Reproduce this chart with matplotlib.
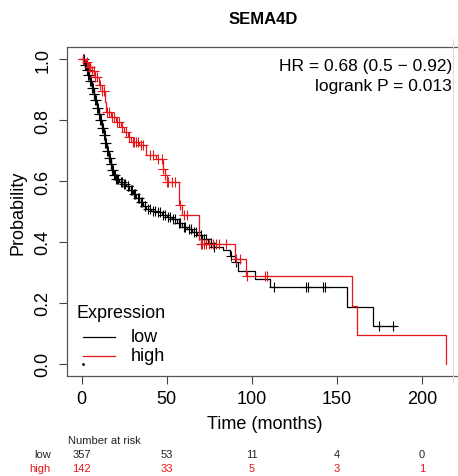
import numpy as np
import matplotlib
matplotlib.use("Agg")
import matplotlib.pyplot as plt

plt.rcParams['font.family'] = ['Liberation Sans', 'DejaVu Sans']

title = "SEMA4D"
groups = ["low", "high"]
colors = {"low": "black", "high": "#e8151b"}

# Kaplan-Meier step events (time in months, survival after step)
low_t = [0, 2, 3, 4, 5, 6, 7, 8, 9, 10, 11, 12, 13, 14, 15, 16, 17, 18, 19, 20,
         22, 24, 26, 28, 30, 32, 34, 36, 38, 41, 44, 47, 50, 53, 56, 59, 62, 65,
         68, 71, 74, 77, 83, 87, 90, 92, 102, 111, 156, 171.5, 184]
low_s = [1.0, 0.98, 0.965, 0.948, 0.93, 0.905, 0.885, 0.865, 0.84, 0.82, 0.80,
         0.775, 0.75, 0.725, 0.70, 0.675, 0.655, 0.635, 0.62, 0.607,
         0.598, 0.59, 0.583, 0.572, 0.558, 0.543, 0.530, 0.517, 0.508, 0.502,
         0.497, 0.490, 0.483, 0.475, 0.462, 0.450, 0.442, 0.432, 0.423, 0.410,
         0.398, 0.385, 0.373, 0.355, 0.333, 0.306, 0.279, 0.251, 0.1875, 0.125,
         0.125]
low_cens = [1, 1.5, 2, 2.5, 3, 3.5, 4, 4.5, 5, 5.5, 6, 6.5, 7, 7.5, 8, 8.5, 9,
            9.5, 10, 10.5, 11, 11.5, 12, 12.5, 13, 13.5, 14, 14.5, 15, 15.5,
            16, 16.5, 17, 17.5, 18, 18.5, 19, 19.5, 20, 21, 21.5, 23, 23.5, 25,
            25.5, 27, 27.5, 29, 29.5, 31, 31.5, 33, 33.5, 35, 35.5, 37, 37.5,
            39, 40, 42, 43, 45, 46, 48, 49, 51, 52, 54, 55, 57, 58, 60, 61, 63,
            64, 66, 67, 69, 70, 72, 73, 75, 76, 78, 88, 91, 113, 132, 133, 142,
            143, 175, 183]

high_t = [0, 2, 4, 6, 8, 10, 12, 13.5, 14.5, 17, 20, 23, 25, 27, 29, 34, 38, 44,
          48, 49, 50, 57.5, 59, 69, 70, 90, 96.5, 159, 162, 214]
high_s = [1.0, 0.99, 0.975, 0.96, 0.94, 0.915, 0.895, 0.86, 0.827, 0.81, 0.794,
          0.778, 0.761, 0.745, 0.728, 0.717, 0.684, 0.673, 0.64, 0.62, 0.597,
          0.52, 0.487, 0.41, 0.394, 0.344, 0.2875, 0.19, 0.094, 0.0]
high_cens = [1, 3, 4.5, 5, 6, 7, 8, 9, 11, 12, 13, 15, 16, 18, 19, 21, 22, 24,
             26, 28, 30, 31, 32, 33, 35, 36, 40, 42, 45, 47, 48, 49, 50, 51, 53,
             55, 58, 60, 62, 70, 71, 72, 73, 75, 77, 79, 81, 85, 91, 93, 97,
             108, 109]

risk_times = [0, 50, 100, 150, 200]
risk_low = [357, 53, 11, 4, 0]
risk_high = [142, 33, 5, 3, 1]

hr_text = "HR = 0.68 (0.5 \u2212 0.92)"
p_text = "logrank P = 0.013"

W, H = 458, 477
fig = plt.figure(figsize=(W / 100, H / 100), dpi=100)

def fx(px):
    return px / W

def fy(py):
    return 1 - py / H

ax = fig.add_axes([fx(67), fy(377), (462 - 67) / W, (377 - 48) / H])
ax.set_xlim(-8.6, 223.6)
ax.set_ylim(-0.04, 1.04)

series = {"low": (low_t, low_s, low_cens), "high": (high_t, high_s, high_cens)}
for g in ["low", "high"]:
    t, s, c = series[g]
    t = np.array(t, float)
    s = np.array(s, float)
    ax.step(t, s, where="post", color=colors[g], lw=0.9)
    c = np.array(c, float)
    idx = np.searchsorted(t, c, side="right") - 1
    ax.plot(c, s[idx], ls="none", marker="+", ms=6.5, mew=0.8, color=colors[g])

for sp in ax.spines.values():
    sp.set_color("#555555")
    sp.set_linewidth(0.9)
ax.set_xticks(risk_times)
ax.set_yticks([0.0, 0.2, 0.4, 0.6, 0.8, 1.0])
ax.set_yticklabels(["0.0", "0.2", "0.4", "0.6", "0.8", "1.0"], rotation=90,
                   va="center")
ax.tick_params(axis="both", direction="out", length=6, width=0.8,
               color="#444444", labelsize=13, pad=4)
ax.tick_params(axis="y", pad=5)
ax.set_ylabel("Probability", fontsize=13, labelpad=6)
ax.set_xlabel("Time (months)", fontsize=13, labelpad=6)

# faint right border line as in reference
fig.add_artist(plt.Line2D([fx(453), fx(453)], [fy(40), fy(383)],
                          color="#dddddd", lw=0.8))

# legend
fig.text(fx(77), fy(313), "Expression", fontsize=13, va="center", ha="left")
for g, py in [("low", 338), ("high", 357)]:
    fig.add_artist(plt.Line2D([fx(83), fx(115)], [fy(py), fy(py)],
                              color=colors[g], lw=0.9))
    fig.text(fx(131), fy(py), g, fontsize=13, va="center", ha="left")
fig.add_artist(plt.Line2D([fx(83)], [fy(365)], marker="o", ms=1, color="black"))

fig.text(fx(263), fy(19), title, fontsize=12, fontweight="bold",
         ha="center", va="center")
fig.text(fx(452), fy(66), hr_text, fontsize=12.5, ha="right", va="center")
fig.text(fx(452), fy(86), p_text, fontsize=12.5, ha="right", va="center")

# number at risk table
fig.text(fx(68), fy(441), "Number at risk", fontsize=8, ha="left",
         va="center", color="#222222")
for lab, vals, py in [("low", risk_low, 455), ("high", risk_high, 469)]:
    col = "#222222" if lab == "low" else colors["high"]
    fig.text(fx(51), fy(py), lab, fontsize=8, ha="right", va="center",
             color=col)
    for tt, v in zip(risk_times, vals):
        xpix = ax.transData.transform((tt, 0))[0]
        fig.text(xpix / fig.bbox.width, fy(py), str(v), fontsize=8,
                 ha="center", va="center", color=col)

fig.savefig("out.png", dpi=100)
